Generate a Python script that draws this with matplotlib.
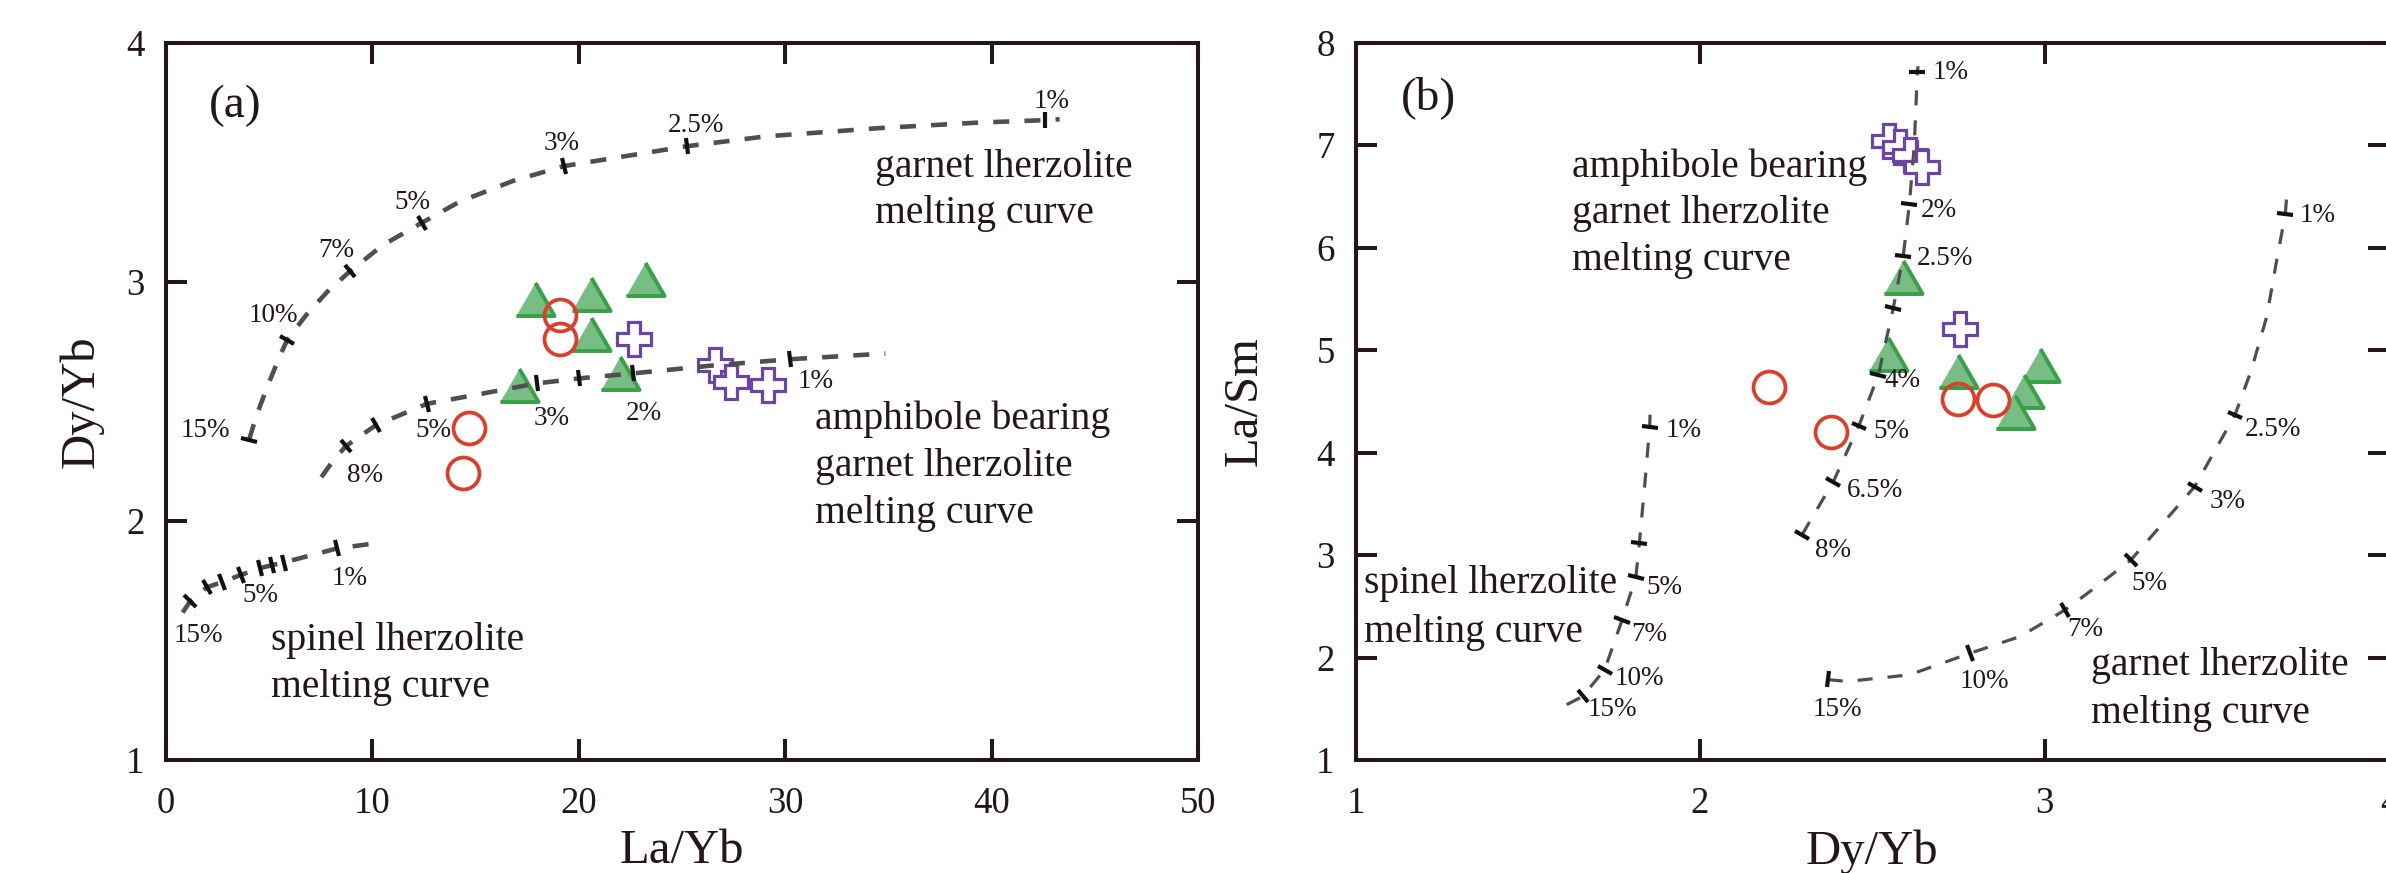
import numpy as np
import matplotlib
matplotlib.use('Agg')
import matplotlib.pyplot as plt
from matplotlib.markers import MarkerStyle
from matplotlib.transforms import Affine2D

plt.rcParams['font.family'] = ['Liberation Serif', 'DejaVu Serif']

# ---------------- Panel (a): La/Yb vs Dy/Yb ----------------
a_tri_x = [17.9, 20.6, 23.2, 20.6, 17.1, 22.0]
a_tri_y = [2.93, 2.95, 3.01, 2.78, 2.57, 2.62]
a_cir_x = [19.1, 19.1, 14.7, 14.4]
a_cir_y = [2.86, 2.76, 2.39, 2.20]
a_crs_x = [22.7, 26.6, 27.4, 29.2]
a_crs_y = [2.76, 2.65, 2.58, 2.57]

# garnet lherzolite melting curve (a)
a_grt_x = [4.05, 4.42, 4.98, 5.53, 5.9, 6.83, 7.94, 8.95, 10.53, 12.4, 14.24,
           16.83, 19.3, 22.38, 25.25, 29.05, 34.6, 39.4, 42.6, 43.3]
a_grt_y = [2.34, 2.444, 2.572, 2.688, 2.758, 2.863, 2.968, 3.045, 3.154, 3.246,
           3.335, 3.422, 3.484, 3.527, 3.567, 3.608, 3.643, 3.666, 3.676, 3.68]
a_grt_tick_x = [4.05, 5.9, 8.95, 12.4, 19.3, 25.25, 42.6]
a_grt_tick_y = [2.34, 2.758, 3.045, 3.246, 3.484, 3.567, 3.676]
a_grt_labels = ['15%', '10%', '7%', '5%', '3%', '2.5%', '1%']

# amphibole bearing garnet lherzolite melting curve (a)
a_amp_x = [7.55, 8.1, 8.74, 10.18, 12.67, 15.2, 17.97, 20.04, 22.64, 26.5, 30.22, 34.86]
a_amp_y = [2.183, 2.25, 2.313, 2.40, 2.49, 2.53, 2.575, 2.596, 2.617, 2.65, 2.676, 2.70]
a_amp_tick_x = [8.74, 10.18, 12.67, 17.97, 20.04, 22.64, 30.22]
a_amp_tick_y = [2.313, 2.40, 2.49, 2.575, 2.596, 2.617, 2.676]
a_amp_labels = ['8%', '5%', '3%', '2%', '1%']

# spinel lherzolite melting curve (a)
a_spl_x = [0.83, 1.2, 2.0, 2.76, 3.68, 4.6, 5.16, 5.72, 8.31, 10.05]
a_spl_y = [1.617, 1.664, 1.722, 1.745, 1.775, 1.803, 1.815, 1.826, 1.885, 1.905]
a_spl_tick_x = [1.2, 2.0, 2.76, 3.68, 4.6, 5.16, 5.72, 8.31]
a_spl_tick_y = [1.664, 1.722, 1.745, 1.775, 1.803, 1.815, 1.826, 1.885]
a_spl_labels = ['15%', '5%', '1%']

a_xticks = [0, 10, 20, 30, 40, 50]
a_yticks = [1, 2, 3, 4]

# ---------------- Panel (b): Dy/Yb vs La/Sm ----------------
b_tri_x = [2.59, 2.547, 2.75, 2.987, 2.94, 2.914]
b_tri_y = [5.71, 4.96, 4.80, 4.85, 4.60, 4.40]
b_cir_x = [2.20, 2.38, 2.75, 2.85]
b_cir_y = [4.64, 4.20, 4.52, 4.51]
b_crs_x = [2.55, 2.58, 2.61, 2.645, 2.755]
b_crs_y = [7.04, 6.98, 6.90, 6.79, 5.21]

# amphibole bearing garnet lherzolite melting curve (b)
b_amp_x = [2.296, 2.387, 2.461, 2.518, 2.561, 2.59, 2.608, 2.622, 2.631, 2.633]
b_amp_y = [3.197, 3.717, 4.26, 4.76, 5.41, 5.92, 6.43, 7.0, 7.717, 7.77]
b_amp_tick_x = [2.296, 2.387, 2.461, 2.518, 2.561, 2.59, 2.608, 2.631]
b_amp_tick_y = [3.197, 3.717, 4.26, 4.76, 5.41, 5.92, 6.43, 7.717]
b_amp_labels = ['8%', '6.5%', '5%', '4%', '2.5%', '2%', '1%']

# spinel lherzolite melting curve (b)
b_spl_x = [1.613, 1.659, 1.723, 1.774, 1.814, 1.824, 1.84, 1.854, 1.855]
b_spl_y = [1.54, 1.62, 1.88, 2.368, 2.79, 3.116, 3.7, 4.254, 4.37]
b_spl_tick_x = [1.659, 1.723, 1.774, 1.814, 1.824, 1.854]
b_spl_tick_y = [1.62, 1.88, 2.368, 2.79, 3.116, 4.254]
b_spl_labels = ['15%', '10%', '7%', '5%', '1%']

# garnet lherzolite melting curve (b)
b_grt_x = [2.371, 2.427, 2.608, 2.785, 2.929, 3.06, 3.151, 3.251, 3.352, 3.436,
           3.553, 3.60, 3.645, 3.675, 3.699, 3.704]
b_grt_y = [1.785, 1.766, 1.831, 2.043, 2.205, 2.465, 2.693, 2.953, 3.343, 3.668,
           4.368, 4.80, 5.326, 5.894, 6.327, 6.543]
b_grt_tick_x = [2.371, 2.785, 3.06, 3.251, 3.436, 3.553, 3.699]
b_grt_tick_y = [1.79, 2.043, 2.465, 2.953, 3.668, 4.368, 6.327]
b_grt_labels = ['15%', '10%', '7%', '5%', '3%', '2.5%', '1%']

b_xticks = [1, 2, 3, 4]
b_yticks = [1, 2, 3, 4, 5, 6, 7, 8]

# ---------------- styling ----------------
INK = '#231815'
GREEN_FACE = '#78bd84'
GREEN_EDGE = '#38a046'
RED = '#d8402c'
PURPLE = '#6a45a6'
DASH = '#4f4f4f'
TRI = [(-1, -0.866), (1, -0.866), (0, 0.866)]

W, H = 2386, 873
fig = plt.figure(figsize=(W / 100, H / 100), dpi=100)
axA = fig.add_axes([165.5 / W, (H - 760) / H, (1198 - 165.5) / W, (760 - 42.7) / H])
axB = fig.add_axes([1355.5 / W, (H - 760) / H, (2389 - 1355.5) / W, (760 - 42.7) / H])


def style_axes(ax, xlim, ylim, xticks, yticks, xlabel, ylabel, ylabelpad):
    ax.set_xlim(*xlim)
    ax.set_ylim(*ylim)
    ax.set_xticks(xticks)
    ax.set_yticks(yticks)
    for s in ax.spines.values():
        s.set_linewidth(2.9)
        s.set_color(INK)
    ax.tick_params(direction='in', length=15, width=2.9, color=INK,
                   top=True, right=True, labelsize=26.5, labelcolor=INK)
    ax.tick_params(axis='x', pad=19)
    ax.tick_params(axis='y', pad=15)
    ax.set_xlabel(xlabel, fontsize=35, color=INK, labelpad=6)
    ax.set_ylabel(ylabel, fontsize=35, color=INK, labelpad=ylabelpad)


def draw_curve(ax, xs, ys, tx, ty, lw, dash):
    ax.plot(xs, ys, color=DASH, lw=lw, dashes=dash, dash_capstyle='butt', zorder=4)
    P = ax.transData.transform(np.column_stack([xs, ys]))
    T = ax.transData.transform(np.column_stack([tx, ty]))
    for (px, py), x, y in zip(T, tx, ty):
        i = int(np.argmin(np.hypot(P[:, 0] - px, P[:, 1] - py)))
        j0, j1 = max(i - 1, 0), min(i + 1, len(P) - 1)
        dx, dy = P[j1] - P[j0]
        ang = np.degrees(np.arctan2(dy, dx))
        m = MarkerStyle('|', transform=Affine2D().rotate_deg(ang))
        ax.plot([x], [y], marker=m, ms=11.5, mew=3.0, color='#111111', ls='none', zorder=5)


def draw_points(ax, tx, ty, cx, cy, px, py):
    ax.plot(tx, ty, ls='none', marker=TRI, ms=27.5, mfc=GREEN_FACE, mec=GREEN_EDGE,
            mew=2.8, zorder=3)
    ax.plot(cx, cy, ls='none', marker='o', ms=23, mfc='none', mec=RED, mew=2.7, zorder=3)
    ax.plot(px, py, ls='none', marker='P', ms=24.5, mfc='white', mec=PURPLE, mew=2.3, zorder=3)


def put_lines(ax, x, y0, dy, lines, size=28.5):
    for k, t in enumerate(lines):
        ax.text(x, y0 - k * dy, t, fontsize=size, color=INK, ha='left', va='baseline')


# ----- panel (a)
style_axes(axA, (0, 50), (1, 4), a_xticks, a_yticks, 'La/Yb', 'Dy/Yb', 16)
draw_points(axA, a_tri_x, a_tri_y, a_cir_x, a_cir_y, a_crs_x, a_crs_y)
LW_A, DASH_A = 3.3, (3.5, 3.3)
draw_curve(axA, a_grt_x, a_grt_y, a_grt_tick_x, a_grt_tick_y, LW_A, DASH_A)
draw_curve(axA, a_amp_x, a_amp_y, a_amp_tick_x, a_amp_tick_y, LW_A, DASH_A)
draw_curve(axA, a_spl_x, a_spl_y, a_spl_tick_x, a_spl_tick_y, LW_A, DASH_A)

pct_a = dict(fontsize=19.5, color=INK, ha='center', va='center', zorder=6)
for t, (x, y) in zip(a_grt_labels, [(1.95, 2.38), (5.2, 2.86), (8.26, 3.13), (11.96, 3.33),
                                    (19.2, 3.58), (25.67, 3.655), (42.9, 3.753)]):
    axA.text(x, y, t, **pct_a)
for t, (x, y) in zip(a_amp_labels, [(9.68, 2.19), (12.98, 2.38), (18.72, 2.43),
                                    (23.15, 2.45), (31.46, 2.582)]):
    axA.text(x, y, t, **pct_a)
for t, (x, y) in zip(a_spl_labels, [(1.6, 1.52), (4.6, 1.69), (8.9, 1.76)]):
    axA.text(x, y, t, **pct_a)

put_lines(axA, 34.37, 3.44, 0.195, ['garnet lherzolite', 'melting curve'])
put_lines(axA, 31.46, 2.386, 0.197, ['amphibole bearing', 'garnet lherzolite', 'melting curve'])
put_lines(axA, 5.1, 1.46, 0.195, ['spinel lherzolite', 'melting curve'])
axA.text(2.08, 3.735, '(a)', fontsize=34, color=INK, ha='left', va='center')

# ----- panel (b)
style_axes(axB, (1, 4), (1, 8), b_xticks, b_yticks, 'Dy/Yb', 'La/Sm', 36)
draw_points(axB, b_tri_x, b_tri_y, b_cir_x, b_cir_y, b_crs_x, b_crs_y)
LW_B, DASH_B = 2.3, (4.7, 4.7)
draw_curve(axB, b_amp_x, b_amp_y, b_amp_tick_x, b_amp_tick_y, LW_B, DASH_B)
draw_curve(axB, b_spl_x, b_spl_y, b_spl_tick_x, b_spl_tick_y, LW_B, DASH_B)
draw_curve(axB, b_grt_x, b_grt_y, b_grt_tick_x, b_grt_tick_y, LW_B, DASH_B)

pct_b = dict(fontsize=19.5, color=INK, ha='left', va='center', zorder=6)
for t, (x, y) in zip(b_amp_labels, [(2.334, 3.04), (2.426, 3.626), (2.502, 4.21), (2.536, 4.70),
                                    (2.63, 5.89), (2.64, 6.36), (2.674, 7.71)]):
    axB.text(x, y, t, **pct_b)
for t, (x, y) in zip(b_spl_labels, [(1.673, 1.49), (1.753, 1.80), (1.80, 2.22),
                                    (1.843, 2.68), (1.90, 4.215)]):
    axB.text(x, y, t, **pct_b)
for t, (x, y) in zip(b_grt_labels, [(2.327, 1.49), (2.753, 1.766), (3.066, 2.27), (3.251, 2.726),
                                    (3.479, 3.525), (3.582, 4.225), (3.74, 6.31)]):
    axB.text(x, y, t, **pct_b)

put_lines(axB, 1.627, 6.693, 0.457, ['amphibole bearing', 'garnet lherzolite', 'melting curve'])
put_lines(axB, 1.024, 2.63, 0.474, ['spinel lherzolite', 'melting curve'])
put_lines(axB, 3.134, 1.83, 0.47, ['garnet lherzolite', 'melting curve'])
axB.text(1.131, 7.466, '(b)', fontsize=34, color=INK, ha='left', va='center')

fig.savefig('out.png', dpi=100)
